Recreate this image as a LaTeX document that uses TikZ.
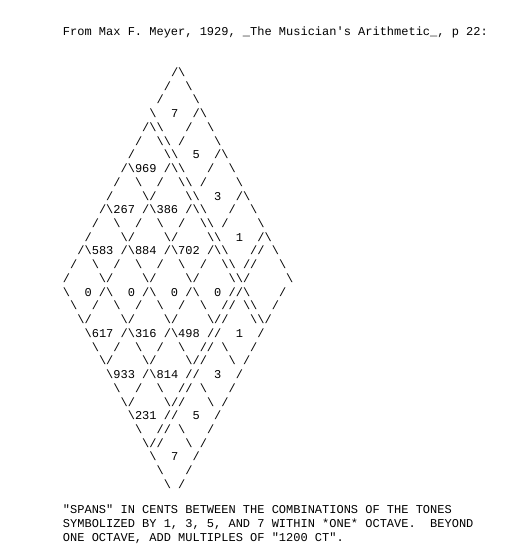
\documentclass[tikz,border=0pt]{standalone}
\usepackage{fontspec}
\newfontfamily\asciifont{Liberation Mono}
\newcommand\BS{\textbackslash}
\begin{document}
\begin{tikzpicture}[x=1pt,y=1pt,
  txt/.style={anchor=base west,inner sep=0pt,outer sep=0pt,
    font=\asciifont\fontsize{12}{13.73}\selectfont\frenchspacing,text=black}]
\useasboundingbox[fill=white] (0,0) rectangle (510,-555);
\def\cw{7.2}
\def\lh{13.73}
\def\yA{76.5}
% title
\node[txt] (title) at (63,-35.7) {From Max F. Meyer, 1929, \_The Musician\textquotesingle s Arithmetic\_, p 22:};
% diamond rows: \row{name}{row}{leftcol}{text}
\newcommand\arow[4]{\node[txt] (#1) at ({63+#3*\cw},{-(\yA+(#2-1)*\lh)}) {#4};}
\arow{r1}{1}{15}{/\BS}
\arow{r2}{2}{14}{/~~\BS}
\arow{r3}{3}{13}{/~~~~\BS}
\arow{r4}{4}{12}{\BS~~7~~/\BS}
\arow{r5}{5}{11}{/\BS\BS~~~/~~\BS}
\arow{r6}{6}{10}{/~~\BS\BS~/~~~~\BS}
\arow{r7}{7}{9}{/~~~~\BS\BS~~5~~/\BS}
\arow{r8}{8}{8}{/\BS969~/\BS\BS~~~/~~\BS}
\arow{r9}{9}{7}{/~~\BS~~/~~\BS\BS~/~~~~\BS}
\arow{r10}{10}{6}{/~~~~\BS/~~~~\BS\BS~~3~~/\BS}
\arow{r11}{11}{5}{/\BS267~/\BS386~/\BS\BS~~~/~~\BS}
\arow{r12}{12}{4}{/~~\BS~~/~~\BS~~/~~\BS\BS~/~~~~\BS}
\arow{r13}{13}{3}{/~~~~\BS/~~~~\BS/~~~~\BS\BS~~1~~/\BS}
\arow{r14}{14}{2}{/\BS583~/\BS884~/\BS702~/\BS\BS~~~//~\BS}
\arow{r15}{15}{1}{/~~\BS~~/~~\BS~~/~~\BS~~/~~\BS\BS~//~~~\BS}
\arow{r16}{16}{0}{/~~~~\BS/~~~~\BS/~~~~\BS/~~~~\BS\BS/~~~~~\BS}
\arow{r17}{17}{0}{\BS~~0~/\BS~~0~/\BS~~0~/\BS~~0~//\BS~~~~/}
\arow{r18}{18}{1}{\BS~~/~~\BS~~/~~\BS~~/~~\BS~~//~\BS\BS~~/}
\arow{r19}{19}{2}{\BS/~~~~\BS/~~~~\BS/~~~~\BS//~~~\BS\BS/}
\arow{r20}{20}{3}{\BS617~/\BS316~/\BS498~//~~1~~/}
\arow{r21}{21}{4}{\BS~~/~~\BS~~/~~\BS~~//~\BS~~~/}
\arow{r22}{22}{5}{\BS/~~~~\BS/~~~~\BS//~~~\BS~/}
\arow{r23}{23}{6}{\BS933~/\BS814~//~~3~~/}
\arow{r24}{24}{7}{\BS~~/~~\BS~~//~\BS~~~/}
\arow{r25}{25}{8}{\BS/~~~~\BS//~~~\BS~/}
\arow{r26}{26}{9}{\BS231~//~~5~~/}
\arow{r27}{27}{10}{\BS~~//~\BS~~~/}
\arow{r28}{28}{11}{\BS//~~~\BS~/}
\arow{r29}{29}{12}{\BS~~7~~/}
\arow{r30}{30}{13}{\BS~~~/}
\arow{r31}{31}{14}{\BS~/}
% caption
\node[txt] (cap1) at (63,-513.6) {\textquotedbl SPANS\textquotedbl{} IN CENTS BETWEEN THE COMBINATIONS OF THE TONES};
\node[txt] (cap2) at (63,-527.4) {SYMBOLIZED BY 1, 3, 5, AND 7 WITHIN *ONE* OCTAVE.~~BEYOND};
\node[txt] (cap3) at (63,-541.1) {ONE OCTAVE, ADD MULTIPLES OF \textquotedbl 1200 CT\textquotedbl.};
\end{tikzpicture}
\end{document}
